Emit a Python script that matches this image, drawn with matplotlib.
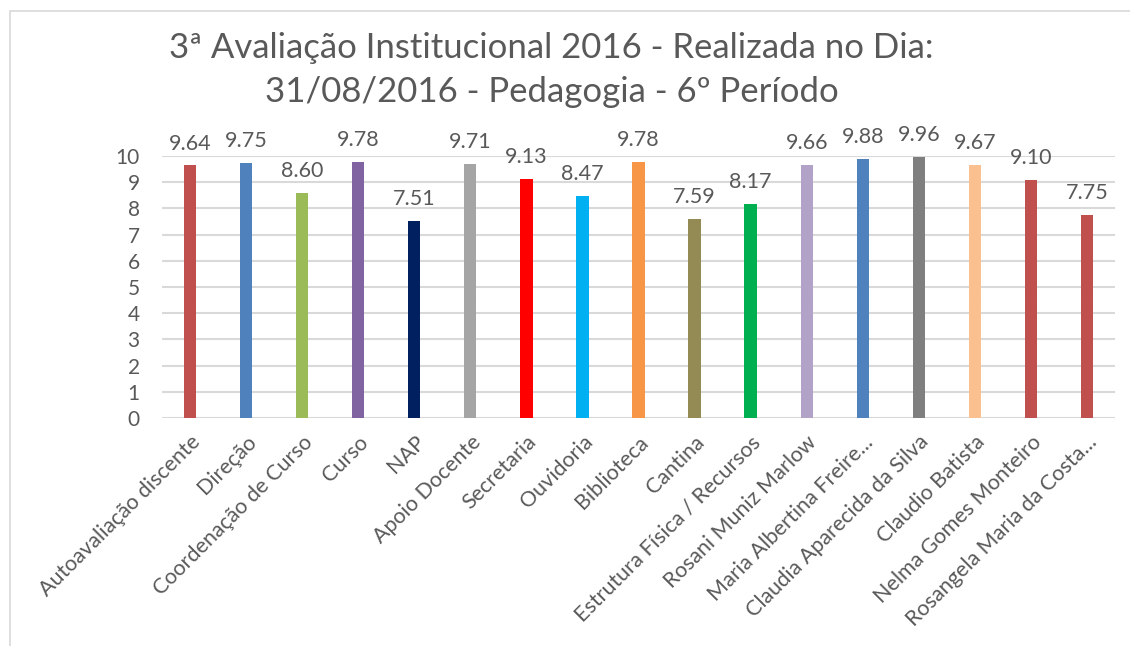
import matplotlib
matplotlib.use("Agg")
import matplotlib.pyplot as plt
from matplotlib.patches import Rectangle

plt.rcParams['font.family'] = ['Lato', 'DejaVu Sans']

categories = ["Autoavaliação discente", "Direção", "Coordenação de Curso", "Curso", "NAP",
              "Apoio Docente", "Secretaria", "Ouvidoria", "Biblioteca", "Cantina",
              "Estrutura Física / Recursos", "Rosani Muniz Marlow", "Maria Albertina Freire...",
              "Claudia Aparecida da Silva", "Claudio Batista", "Nelma Gomes Monteiro",
              "Rosangela Maria da Costa..."]
values = [9.64, 9.75, 8.60, 9.78, 7.51, 9.71, 9.13, 8.47, 9.78, 7.59, 8.17,
          9.66, 9.88, 9.96, 9.67, 9.10, 7.75]
colors = ["#C0504D", "#4F81BD", "#9BBB59", "#8064A2", "#002060", "#A5A5A5", "#FF0000",
          "#00B0F0", "#F79646", "#948A54", "#00B050", "#B3A2C7", "#4F81BD", "#7F7F7F",
          "#FAC090", "#C0504D", "#C0504D"]
yticks = list(range(0, 11))

txt = "#595959"
W, H = 1130, 646
fig = plt.figure(figsize=(W / 100, H / 100), dpi=100)

# chart frame (light border on left/top)
fig.patches.append(Rectangle((10 / W, -0.1), 1.2, 1 - 11 / H + 0.1, transform=fig.transFigure,
                             fill=False, edgecolor="#D9D9D9", linewidth=1.2))

ax = fig.add_axes([162 / W, 1 - 418 / H, (1115 - 162) / W, (418 - 156) / H])
x = range(len(categories))
ax.bar(x, values, width=0.22, color=colors, zorder=3)
for i, v in enumerate(values):
    ax.text(i, v + 0.45, f"{v:.2f}", ha="center", va="bottom", fontsize=15.5, color=txt, clip_on=False)

ax.set_xlim(-0.5, len(categories) - 0.5)
ax.set_ylim(0, 10)
ax.set_yticks(yticks)
ax.yaxis.grid(True, color="#D9D9D9", linewidth=1.5, zorder=0)
ax.set_axisbelow(True)
for s in ax.spines.values():
    s.set_visible(False)
ax.tick_params(axis="both", length=0, labelcolor=txt)
ax.tick_params(axis="y", pad=16, labelsize=15)
ax.set_xticks(list(x))
ax.set_xticklabels(categories, rotation=45, ha="right", rotation_mode="anchor")
ax.tick_params(axis="x", pad=10, labelsize=15.5)

fig.text(0.488, 1 - 48 / H, "3ª Avaliação Institucional 2016 - Realizada no Dia:",
         ha="center", va="center", fontsize=25, color=txt)
fig.text(0.488, 1 - 92 / H, "31/08/2016 - Pedagogia - 6º Período",
         ha="center", va="center", fontsize=25, color=txt)

fig.savefig("out.png", dpi=100)
